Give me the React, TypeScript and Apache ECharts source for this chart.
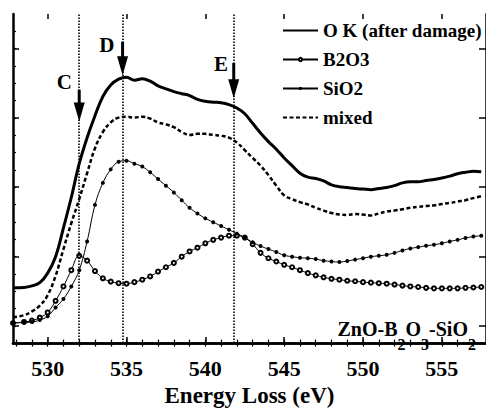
import React, { useEffect, useRef } from "react";
import * as echarts from "echarts";

// Energy grid (eV)
const energies = [
  527.8, 528.5, 529.0, 529.5, 530.0, 530.5, 531.0, 531.5, 532.0, 532.5,
  533.0, 533.5, 534.0, 534.5, 535.0, 535.5, 536.0, 536.5, 537.0, 537.5,
  538.0, 538.5, 539.0, 539.5, 540.0, 540.5, 541.0, 541.5, 542.0, 542.5,
  543.0, 543.5, 544.0, 544.5, 545.0, 545.5, 546.0, 546.5, 547.0, 547.5,
  548.0, 548.5, 549.0, 549.5, 550.0, 550.5, 551.0, 551.5, 552.0, 552.5,
  553.0, 553.5, 554.0, 554.5, 555.0, 555.5, 556.0, 556.5, 557.0, 557.5,
];

// Intensities (arbitrary units)
const okDamage = [
  3.19, 3.21, 3.30, 3.49, 4.04, 4.99, 6.65, 8.42, 10.36, 11.86,
  13.13, 14.24, 14.90, 15.24, 15.35, 15.18, 15.26, 15.12, 14.85, 14.68,
  14.52, 14.40, 14.29, 14.07, 13.96, 13.91, 13.88, 13.77, 13.57, 13.24,
  12.69, 12.13, 11.63, 11.19, 10.69, 10.25, 9.81, 9.58, 9.50, 9.36,
  9.14, 9.03, 8.98, 8.92, 8.89, 8.86, 8.92, 8.98, 9.09, 9.25,
  9.31, 9.31, 9.39, 9.45, 9.53, 9.64, 9.78, 9.86, 9.92, 9.89,
];
const b2o3 = [
  1.16, 1.22, 1.30, 1.47, 1.77, 2.44, 3.27, 4.21, 5.04, 4.76,
  4.16, 3.74, 3.55, 3.46, 3.43, 3.52, 3.66, 3.85, 4.13, 4.38,
  4.63, 4.99, 5.29, 5.51, 5.76, 5.96, 6.09, 6.20, 6.20, 6.09,
  5.71, 5.21, 4.90, 4.71, 4.52, 4.38, 4.21, 4.04, 3.91, 3.80,
  3.71, 3.66, 3.60, 3.57, 3.52, 3.49, 3.46, 3.43, 3.38, 3.32,
  3.27, 3.24, 3.19, 3.16, 3.16, 3.16, 3.16, 3.19, 3.21, 3.24,
];
const sio2 = [
  1.16, 1.19, 1.22, 1.33, 1.55, 2.05, 2.55, 3.27, 4.21, 5.87,
  7.98, 9.25, 10.03, 10.47, 10.53, 10.36, 10.19, 9.86, 9.47, 9.09,
  8.70, 8.25, 7.81, 7.48, 7.20, 6.98, 6.76, 6.54, 6.32, 6.09,
  5.82, 5.60, 5.43, 5.26, 5.07, 4.99, 4.93, 4.90, 4.85, 4.76,
  4.71, 4.68, 4.74, 4.82, 4.90, 4.99, 5.04, 5.10, 5.21, 5.35,
  5.46, 5.54, 5.62, 5.68, 5.76, 5.87, 5.96, 6.07, 6.15, 6.20,
];
const mixed = [
  1.50, 1.61, 1.83, 2.16, 2.77, 3.88, 5.43, 6.93, 8.31, 9.81,
  11.25, 12.19, 12.74, 13.02, 13.07, 13.02, 13.07, 12.96, 12.74, 12.63,
  12.47, 12.19, 12.02, 12.08, 12.08, 12.02, 11.97, 11.86, 11.58, 11.14,
  10.69, 10.25, 9.70, 9.09, 8.53, 8.31, 8.14, 8.01, 7.81, 7.65,
  7.51, 7.42, 7.40, 7.45, 7.42, 7.37, 7.48, 7.59, 7.65, 7.73,
  7.81, 7.87, 7.92, 7.95, 8.03, 8.09, 8.17, 8.25, 8.37, 8.48,
];

const seriesNames = ["O K (after damage)", "B2O3", "SiO2", "mixed"];

// Axis ticks
const xMajorTicks = [530, 535, 540, 545, 550, 555];
const xMinorTicks = [
  528, 529, 530, 531, 532, 533, 534, 535, 536, 537, 538, 539, 540, 541, 542,
  543, 544, 545, 546, 547, 548, 549, 550, 551, 552, 553, 554, 555, 556, 557,
];
const yMinorTicks = [1, 2, 3, 4, 5, 6, 7, 8, 9, 10, 11, 12, 13, 14, 15, 16, 17, 18];
const yMajorTicks = [1, 5, 9, 13, 17];

// Annotations C, D, E
const markerLetters = ["C", "D", "E"];
const markerEnergies = [532.0, 534.75, 541.8];
const arrowTop = [14.63, 17.4, 16.18];
const arrowTip = [12.8, 15.46, 14.13];
const letterX = [531.05, 533.75, 541.0];
const letterY = [15.1, 17.23, 16.09];

const FONT = "Liberation Serif, Times New Roman, serif";
const X_MIN = 527.8;
const X_MAX = 557.8;
const Y_MIN = 0;
const Y_MAX = 19;

const pairs = (ys: number[]) => energies.map((x, i) => [x, ys[i]]);

export default function App() {
  const ref = useRef<HTMLDivElement>(null);

  useEffect(() => {
    if (!ref.current) return;
    const chart = echarts.init(ref.current, null, { renderer: "svg" });

    const black = "#000";
    const clear = "rgba(0,0,0,0)";
    const baseX = { type: "value", min: X_MIN, max: X_MAX, splitLine: { show: false } };
    const baseY = { type: "value", min: Y_MIN, max: Y_MAX, splitLine: { show: false } };
    const noMarker = { color: clear, borderColor: clear, borderWidth: 0 };

    const option: any = {
      animation: false,
      backgroundColor: "#fff",
      textStyle: { fontFamily: FONT },
      grid: { left: 13, right: -3, top: 14, bottom: 55 },
      legend: {
        data: [
          { name: seriesNames[0], itemStyle: noMarker },
          { name: seriesNames[1] },
          { name: seriesNames[2] },
          { name: seriesNames[3], itemStyle: noMarker },
        ],
        orient: "vertical",
        left: 282,
        top: 20,
        padding: 0,
        itemWidth: 35,
        itemHeight: 4,
        itemGap: 8,
        textStyle: {
          fontFamily: FONT,
          fontSize: 19,
          fontWeight: "bold",
          color: black,
          lineHeight: 21,
        },
      },
      xAxis: [
        {
          ...baseX,
          position: "bottom",
          axisLine: { lineStyle: { color: black, width: 2.5 } },
          axisTick: { inside: true, length: 6, customValues: xMajorTicks, lineStyle: { color: black, width: 1.5 } },
          axisLabel: {
            customValues: xMajorTicks,
            color: black,
            fontSize: 22,
            fontWeight: "bold",
            fontFamily: FONT,
            margin: 14,
          },
          name: "Energy Loss (eV)",
          nameLocation: "middle",
          nameGap: 34,
          nameTextStyle: { color: black, fontSize: 23, fontWeight: "bold", fontFamily: FONT },
        },
        {
          ...baseX,
          position: "bottom",
          axisLine: { show: false },
          axisTick: { inside: true, length: 3.5, customValues: xMinorTicks, lineStyle: { color: black, width: 1.2 } },
          axisLabel: { show: false },
        },
        {
          ...baseX,
          position: "top",
          axisLine: { lineStyle: { color: black, width: 2.5 } },
          axisTick: { inside: true, length: 3.5, customValues: xMinorTicks, lineStyle: { color: black, width: 1.2 } },
          axisLabel: { show: false },
        },
        {
          ...baseX,
          position: "top",
          axisLine: { show: false },
          axisTick: { inside: true, length: 5, customValues: xMajorTicks, lineStyle: { color: black, width: 1.5 } },
          axisLabel: { show: false },
        },
      ],
      yAxis: [
        {
          ...baseY,
          position: "left",
          axisLine: { show: true, lineStyle: { color: black, width: 2.5 } },
          axisTick: { show: true, inside: true, length: 3, customValues: yMinorTicks, lineStyle: { color: black, width: 1.2 } },
          axisLabel: { show: false },
        },
        {
          ...baseY,
          position: "left",
          axisLine: { show: false },
          axisTick: { show: true, inside: true, length: 6, customValues: yMajorTicks, lineStyle: { color: black, width: 1.5 } },
          axisLabel: { show: false },
        },
        {
          ...baseY,
          position: "right",
          axisLine: { show: true, lineStyle: { color: black, width: 2.5 } },
          axisTick: { show: true, inside: true, length: 7, customValues: yMajorTicks, lineStyle: { color: black, width: 1.5 } },
          axisLabel: { show: false },
        },
      ],
      graphic: [
        {
          type: "text",
          right: 10,
          top: 319,
          style: {
            text: "{m|ZnO-B}{s|2}{m|O}{s|3}{m|-SiO}{s|2}",
            fill: black,
            rich: {
              m: {
                fontSize: 20,
                fontWeight: "bold",
                fontFamily: FONT,
                lineHeight: 20,
                verticalAlign: "top",
                fill: black,
              },
              s: {
                fontSize: 16,
                fontWeight: "bold",
                fontFamily: FONT,
                lineHeight: 16,
                padding: [17, 0, 0, 0],
                verticalAlign: "top",
                fill: black,
              },
            },
          },
        },
      ],
      series: [
        {
          name: seriesNames[0],
          type: "line",
          data: pairs(okDamage),
          symbol: "none",
          smooth: 0.4,
          lineStyle: { color: black, width: 3 },
          itemStyle: { color: black },
          z: 4,
          markLine: {
            silent: true,
            symbol: ["none", "none"],
            label: { show: false },
            lineStyle: { color: black, type: [1.5, 1.5], width: 1.6 },
            data: markerEnergies.map((x) => ({ xAxis: x })),
          },
        },
        {
          name: seriesNames[1],
          type: "line",
          data: pairs(b2o3),
          symbol: "emptyCircle",
          symbolSize: 4,
          showSymbol: true,
          smooth: 0.4,
          lineStyle: { color: black, width: 1 },
          itemStyle: { color: black, borderColor: black, borderWidth: 1 },
          z: 3,
        },
        {
          name: seriesNames[2],
          type: "line",
          data: pairs(sio2),
          symbol: "circle",
          symbolSize: 4,
          showSymbol: true,
          smooth: 0.4,
          lineStyle: { color: black, width: 1 },
          itemStyle: { color: black },
          z: 3,
        },
        {
          name: seriesNames[3],
          type: "line",
          data: pairs(mixed),
          symbol: "none",
          smooth: 0.4,
          lineStyle: { color: black, width: 2.5, type: [4, 2.5] },
          itemStyle: { color: black },
          z: 3,
        },
        {
          type: "custom",
          silent: true,
          z: 5,
          clip: false,
          data: markerEnergies.map((x, i) => [x, arrowTop[i], arrowTip[i], letterX[i], letterY[i]]),
          encode: { x: [0, 3], y: [1, 2, 4] },
          renderItem: (params: any, api: any) => {
            const x = api.value(0);
            const top = api.coord([x, api.value(1)]);
            const tip = api.coord([x, api.value(2)]);
            const lab = api.coord([api.value(3), api.value(4)]);
            const headLen = 19;
            const headHalf = 5.5;
            return {
              type: "group",
              children: [
                {
                  type: "line",
                  shape: { x1: top[0], y1: top[1], x2: tip[0], y2: tip[1] - headLen + 2 },
                  style: { stroke: black, lineWidth: 3 },
                },
                {
                  type: "polygon",
                  shape: {
                    points: [
                      [tip[0] - headHalf, tip[1] - headLen],
                      [tip[0] + headHalf, tip[1] - headLen],
                      [tip[0], tip[1]],
                    ],
                  },
                  style: { fill: black },
                },
                {
                  type: "text",
                  x: lab[0],
                  y: lab[1],
                  style: {
                    text: markerLetters[params.dataIndex],
                    fill: black,
                    fontSize: 21,
                    fontWeight: "bold",
                    fontFamily: FONT,
                    align: "center",
                    verticalAlign: "middle",
                  },
                },
              ],
            };
          },
        },
      ],
    };

    chart.setOption(option);
    return () => chart.dispose();
  }, []);

  return (
    <div
      ref={ref}
      style={{ position: "absolute", left: 0, top: 0, width: 486, height: 412, background: "#fff" }}
    />
  );
}
